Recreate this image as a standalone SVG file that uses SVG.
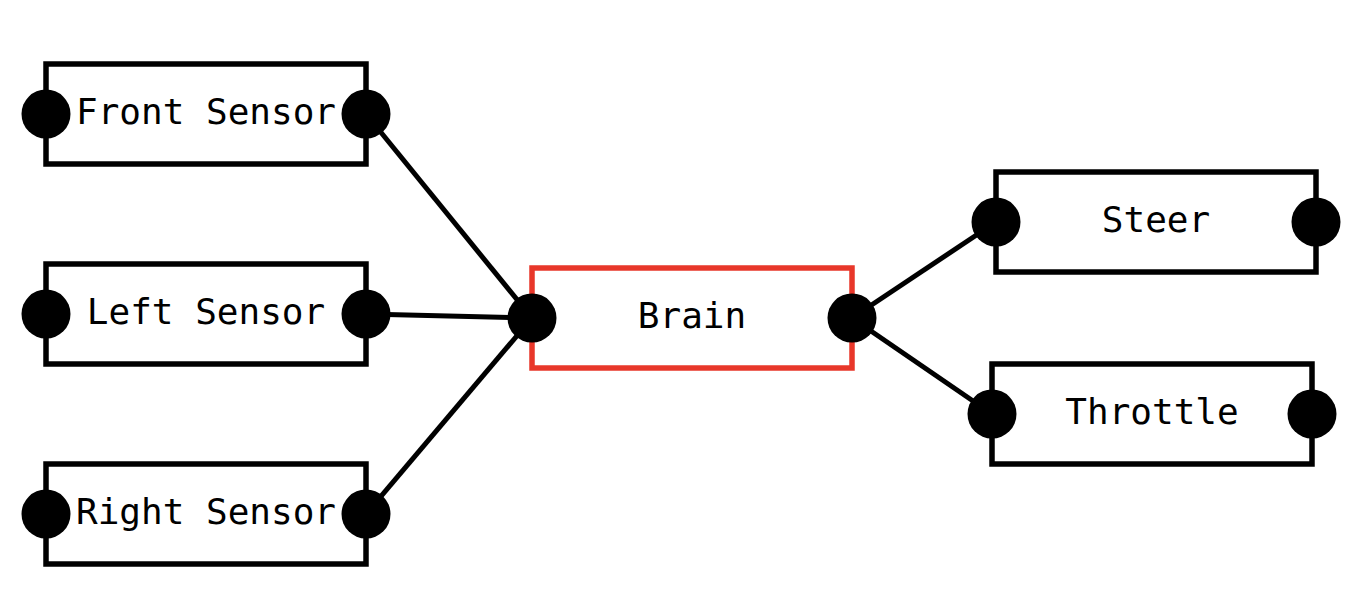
<svg xmlns="http://www.w3.org/2000/svg" width="1366" height="604" viewBox="0 0 1366 604">
<style>
.box{fill:#fff;stroke:#000;stroke-width:5.5}
.brain{fill:#fff;stroke:#e8372a;stroke-width:5.5}
.port{fill:#000}
.lbl{font-family:"DejaVu Sans Mono","Liberation Mono",monospace;font-size:36px;fill:#000;text-anchor:middle}
.edge{stroke:#000;stroke-width:5;fill:none}
</style>
<rect width="1366" height="604" fill="#fff"/>
<g id="connectors">
<line class="edge" x1="366" y1="114" x2="532" y2="318"/>
<line class="edge" x1="366" y1="314" x2="532" y2="318"/>
<line class="edge" x1="366" y1="514" x2="532" y2="318"/>
<line class="edge" x1="852" y1="318" x2="996" y2="222"/>
<line class="edge" x1="852" y1="318" x2="992" y2="414"/>
</g>
<g id="front-sensor">
<rect class="box" x="46" y="64" width="320" height="100"/>
<text class="lbl" x="206" y="124">Front Sensor</text>
<circle class="port" cx="46" cy="114" r="24.5"/>
<circle class="port" cx="366" cy="114" r="24.5"/>
</g>
<g id="left-sensor">
<rect class="box" x="46" y="264" width="320" height="100"/>
<text class="lbl" x="206" y="324">Left Sensor</text>
<circle class="port" cx="46" cy="314" r="24.5"/>
<circle class="port" cx="366" cy="314" r="24.5"/>
</g>
<g id="right-sensor">
<rect class="box" x="46" y="464" width="320" height="100"/>
<text class="lbl" x="206" y="524">Right Sensor</text>
<circle class="port" cx="46" cy="514" r="24.5"/>
<circle class="port" cx="366" cy="514" r="24.5"/>
</g>
<g id="brain">
<rect class="brain" x="532" y="268" width="320" height="100"/>
<text class="lbl" x="692" y="328">Brain</text>
<circle class="port" cx="532" cy="318" r="24.5"/>
<circle class="port" cx="852" cy="318" r="24.5"/>
</g>
<g id="steer">
<rect class="box" x="996" y="172" width="320" height="100"/>
<text class="lbl" x="1156" y="232">Steer</text>
<circle class="port" cx="996" cy="222" r="24.5"/>
<circle class="port" cx="1316" cy="222" r="24.5"/>
</g>
<g id="throttle">
<rect class="box" x="992" y="364" width="320" height="100"/>
<text class="lbl" x="1152" y="424">Throttle</text>
<circle class="port" cx="992" cy="414" r="24.5"/>
<circle class="port" cx="1312" cy="414" r="24.5"/>
</g>
</svg>
